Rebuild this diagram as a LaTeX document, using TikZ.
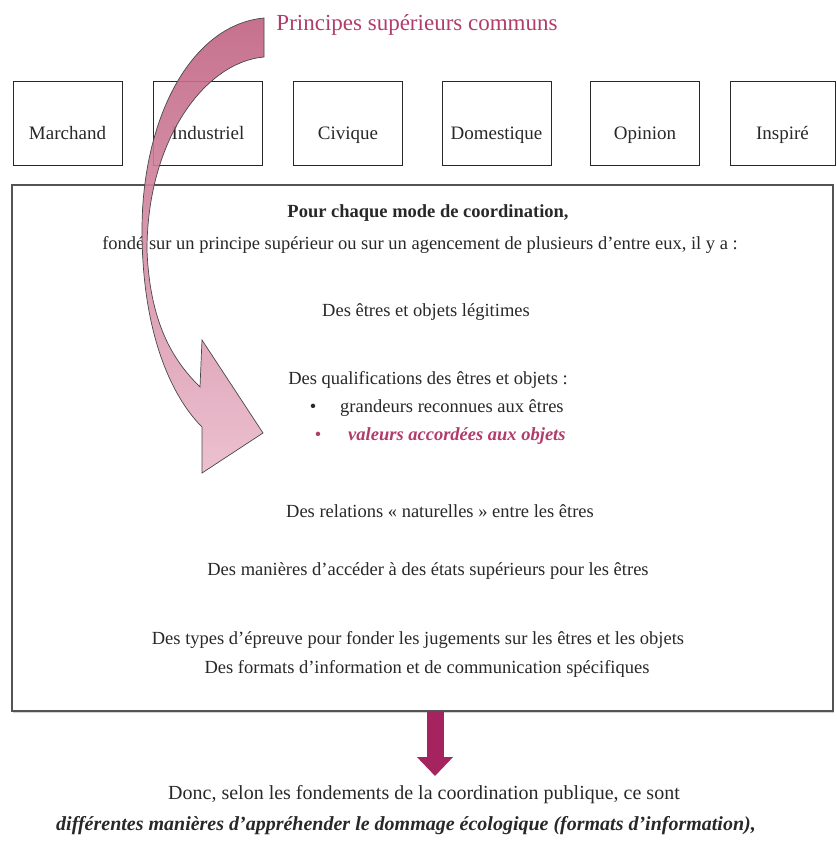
\documentclass[tikz,border=0pt]{standalone}
\usepackage{fontspec}
\setmainfont{Liberation Serif}
\usetikzlibrary{arrows.meta,shadows}
\definecolor{rose}{RGB}{176,60,108}
\definecolor{framboise}{RGB}{165,36,96}
\definecolor{encre}{RGB}{40,40,40}
\definecolor{rosefonce}{RGB}{192,98,130}
\definecolor{roseclair}{RGB}{234,186,203}

\begin{document}
\begin{tikzpicture}[x=1pt,y=-1pt,
    mode/.style={draw=encre,line width=1pt,minimum width=109pt,minimum height=84pt,inner sep=0pt,text height=35pt,text depth=4pt,text=encre,font=\fontsize{19}{22}\selectfont},
    ligne/.style={inner sep=0pt,text=encre,font=\fontsize{18.5}{22}\selectfont},
    conclusion/.style={inner sep=0pt,text=encre,font=\fontsize{20}{24}\selectfont}]
                \useasboundingbox (0,0) rectangle (836,850);
                \node[inner sep=0pt,text=rose,font=\fontsize{23}{26}\selectfont] (titre) at (417,25) {Principes supérieurs communs};

                \node[mode] (marchand) at (67.5,124) {Marchand};
                \node[mode] (industriel) at (208,124) {Industriel};
                \node[mode] (civique) at (348,124) {Civique};
                \node[mode] (domestique) at (496.5,124) {Domestique};
                \node[mode] (opinion) at (645,124) {Opinion};
                \node[mode,minimum width=105pt] (inspire) at (782.5,124) {Inspiré};

                \node[draw=encre!80,line width=1.2pt,fill=white,minimum width=821pt,minimum height=526pt,
                      drop shadow={shadow xshift=1pt,shadow yshift=-2pt,opacity=.35}] (cadre) at (422.5,448) {};

                \node[ligne,font=\fontsize{18.5}{22}\selectfont\bfseries] (mode) at (428,213) {Pour chaque mode de coordination,};
                \node[ligne] (fonde) at (420,245) {fondé sur un principe supérieur ou sur un agencement de plusieurs d’entre eux, il y a :};
                \node[ligne] (etres) at (426,312) {Des êtres et objets légitimes};
                \node[ligne] (qualif) at (428,380) {Des qualifications des êtres et objets :};
                \node[ligne] (puce1) at (313,408) {\textbullet};
                \node[ligne,anchor=west] (grandeurs) at (340,408) {grandeurs reconnues aux êtres};
                \node[ligne,text=rose] (puce2) at (318,436) {\textbullet};
                \node[ligne,anchor=west,text=rose,font=\fontsize{18.5}{22}\selectfont\bfseries\itshape] (valeurs) at (348,436) {valeurs accordées aux objets};
                \node[ligne] (relations) at (440,511) {Des relations «~naturelles~» entre les êtres};
                \node[ligne] (manieres) at (428,571) {Des manières d’accéder à des états supérieurs pour les êtres};
                \node[ligne] (epreuves) at (418,640) {Des types d’épreuve pour fonder les jugements sur les êtres et les objets};
                \node[ligne] (formats) at (427,669) {Des formats d’information et de communication spécifiques};

                % fleche courbe du principe vers les qualifications
                \draw[encre!85,line width=0.7pt,fill opacity=0.9,top color=rosefonce,bottom color=roseclair]
                    (264,18) .. controls (190,25) and (142,120) .. (142,230)
                    .. controls (142,330) and (170,395) .. (202,427)
                    -- (202,473) -- (263,433) -- (202,340) -- (200,387)
                    .. controls (178,365) and (150,330) .. (147,250)
                    .. controls (147,140) and (205,62) .. (264,57) -- cycle;

                \node[conclusion] (donc) at (424,795) {Donc, selon les fondements de la coordination publique, ce sont};
                \node[conclusion,font=\fontsize{20}{24}\selectfont\bfseries\itshape] (dommage) at (406,826) {différentes manières d’appréhender le dommage écologique (formats d’information),};

                \coordinate (pointe) at (435,776);
                \draw[framboise,line width=17pt,-{Triangle[length=19pt,width=35pt]}] (cadre.south -| pointe) -- (pointe);

\end{tikzpicture}
\end{document}
